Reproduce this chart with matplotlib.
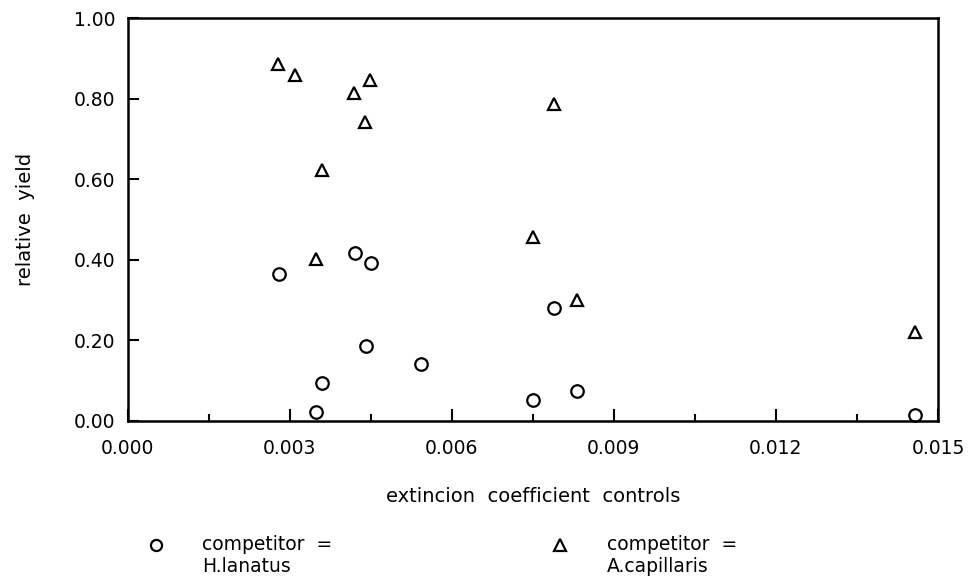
import matplotlib
matplotlib.use('Agg')
import matplotlib.pyplot as plt
from matplotlib.lines import Line2D
from matplotlib.ticker import MultipleLocator, FormatStrFormatter

# extinction coefficient of the controls and relative yield per competitor
x_lanatus = [0.00280, 0.00420, 0.00450, 0.00441, 0.00359, 0.00349,
             0.00543, 0.00790, 0.00751, 0.00831, 0.01458]
y_lanatus = [0.365, 0.417, 0.393, 0.185, 0.094, 0.022,
             0.141, 0.279, 0.052, 0.074, 0.015]

x_capillaris = [0.00279, 0.00309, 0.00418, 0.00448, 0.00439, 0.00359,
                0.00349, 0.00790, 0.00751, 0.00831, 0.01457]
y_capillaris = [0.886, 0.859, 0.815, 0.847, 0.743, 0.622,
                0.402, 0.788, 0.457, 0.300, 0.220]

xticks = [0.000, 0.003, 0.006, 0.009, 0.012, 0.015]
yticks = [0.00, 0.20, 0.40, 0.60, 0.80, 1.00]

plt.rcParams['font.family'] = ['DejaVu Sans']

W, H = 975, 586
fig = plt.figure(figsize=(W / 100, H / 100), dpi=100)
ax = fig.add_axes([0.131, 0.282, 0.831, 0.687])

mk = dict(linestyle='none', markerfacecolor='none', markeredgecolor='black',
          markeredgewidth=1.6, clip_on=False)
ax.plot(x_lanatus, y_lanatus, marker='o', markersize=9, **mk)
ax.plot(x_capillaris, y_capillaris, marker='^', markersize=9, **mk)

ax.set_xlim(0, 0.015)
ax.set_ylim(0, 1.0)
ax.set_xticks(xticks)
ax.set_yticks(yticks)
ax.xaxis.set_minor_locator(MultipleLocator(0.0015))
ax.xaxis.set_major_formatter(FormatStrFormatter('%.3f'))
ax.yaxis.set_major_formatter(FormatStrFormatter('%.2f'))

ax.tick_params(axis='x', which='major', direction='in', length=9, width=1.5,
               labelsize=13.5, pad=13)
ax.tick_params(axis='x', which='minor', direction='in', length=5, width=1.5)
ax.tick_params(axis='y', which='major', direction='in', length=8, width=1.5,
               labelsize=13.5, pad=9)
for s in ax.spines.values():
    s.set_linewidth(1.8)

ax.set_xlabel('extincion  coefficient  controls', fontsize=14, labelpad=21)
ax.set_ylabel('relative  yield', fontsize=14, labelpad=28)

# key below the plot, one marker and two text lines per competitor
key = [('o', 156, 202, 'H.lanatus'), ('^', 560, 607, 'A.capillaris')]
for m, mx, tx, name in key:
    fig.add_artist(Line2D([mx / W], [1 - 545 / H], transform=fig.transFigure,
                          marker=m, markersize=8, **mk))
    fig.text(tx / W, 1 - 545 / H, 'competitor  =', fontsize=13.5,
             va='center', ha='left')
    fig.text(tx / W, 1 - 567 / H, name, fontsize=13.5, va='center', ha='left')

fig.savefig('out.png', dpi=100)
